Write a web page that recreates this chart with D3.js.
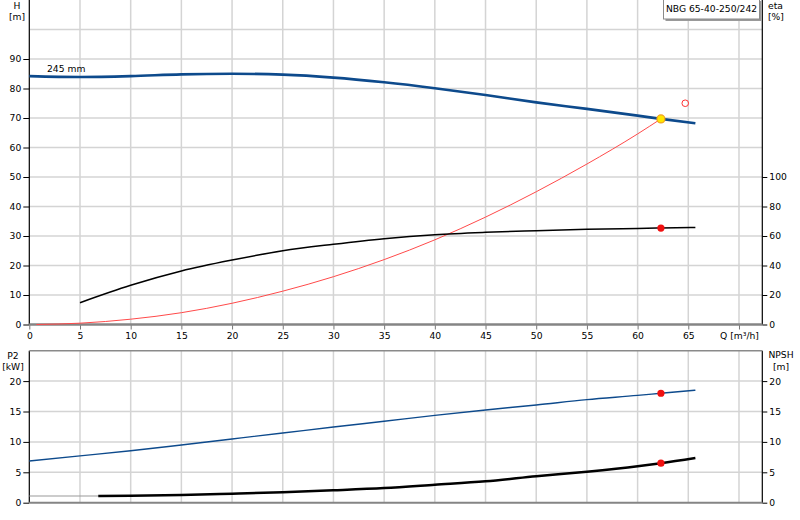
<!DOCTYPE html>
<html>
<head>
<meta charset="utf-8">
<script src="https://cdn.jsdelivr.net/npm/d3@7"></script>
<style>
  body { margin: 0; background: #fff; }
  svg { display: block; font-family: "DejaVu Sans", sans-serif; font-size: 9.2px; }
  .grid line { stroke: #d4d4d4; stroke-width: 1.5; }
  .axis text { fill: #000; font-size: 9.2px; font-family: "DejaVu Sans", sans-serif; }
</style>
</head>
<body>
<svg id="chart" width="800" height="520"></svg>
<script>
// flow ticks [m3/h]
const qTicks = [0, 5, 10, 15, 20, 25, 30, 35, 40, 45, 50, 55, 60, 65, 70];

// pump curve H [m]
const qHead = [0, 5, 10, 15, 20, 25, 30, 35, 40, 45, 50, 55, 60, 62.3, 65.7];
const head = [84.2, 83.9, 84.2, 84.8, 85.0, 84.7, 83.7, 82.1, 80.1, 77.8, 75.3, 73.1, 70.8, 69.7, 68.2];

// system curve H [m]
const qSys = [0.7, 5, 10, 15, 20, 25, 30, 35, 40, 45, 50, 55, 60, 62.3];
const headSys = [0, 0.45, 1.8, 4.0, 7.2, 11.3, 16.2, 22.0, 28.7, 36.4, 45.0, 54.4, 64.6, 69.7];

// efficiency eta [%]
const qEta = [5, 10, 15, 20, 25, 30, 35, 40, 45, 50, 55, 60, 62.3, 65.7];
const eta = [14.8, 26.6, 36.3, 43.7, 50.0, 54.4, 58.2, 60.9, 62.5, 63.6, 64.5, 65.1, 65.4, 65.8];

// power P2 [kW]
const qP2 = [0, 5, 10, 15, 20, 25, 30, 35, 40, 45, 50, 55, 60, 62.3, 65.7];
const p2 = [6.86, 7.7, 8.55, 9.5, 10.48, 11.46, 12.45, 13.4, 14.37, 15.25, 16.07, 16.95, 17.65, 18.0, 18.5];

// NPSH [m]
const qNpsh = [6.8, 10, 15, 20, 25, 30, 35, 40, 45, 50, 55, 60, 62.3, 65.7];
const npsh = [1.1, 1.15, 1.27, 1.48, 1.71, 2.04, 2.42, 2.96, 3.52, 4.34, 5.1, 6.0, 6.5, 7.35];
const qNpshExt = [0, 6.8];
const npshExt = [1.1, 1.1];

// duty point and requested point
const duty = { q: 62.3, h: 69.7, eta: 65.4, p2: 18.0, npsh: 6.5 };
const request = { q: 64.7, h: 75.0 };

const hTicks = [0, 10, 20, 30, 40, 50, 60, 70, 80, 90];
const hGrid = [10, 20, 30, 40, 50, 60, 70, 80, 90, 100];
const etaTicks = [0, 20, 40, 60, 80, 100];
const lowTicks = [0, 5, 10, 15, 20];
const lowGrid = [5, 10, 15, 20];

const svg = d3.select("#chart");
const left = 29.3, right = 762.3;

const x = d3.scaleLinear().domain([0, 72.3]).range([left, right]);
const yH = d3.scaleLinear().domain([0, 110]).range([324.5, 0]);
const yEta = d3.scaleLinear().domain([0, 220]).range([324.5, 0]);
const yLow = d3.scaleLinear().domain([0, 25]).range([502.7, 350.7]);

// grid - top
const gTop = svg.append("g").attr("class", "grid");
gTop.selectAll(".v").data(qTicks.slice(1)).join("line")
  .attr("x1", d => x(d)).attr("x2", d => x(d))
  .attr("y1", yH(110)).attr("y2", yH(0));
gTop.selectAll(".h").data(hGrid).join("line")
  .attr("x1", left).attr("x2", right)
  .attr("y1", d => yH(d)).attr("y2", d => yH(d));

// grid - bottom
const gLow = svg.append("g").attr("class", "grid");
gLow.selectAll(".v").data(qTicks.slice(1)).join("line")
  .attr("x1", d => x(d)).attr("x2", d => x(d))
  .attr("y1", yLow(25)).attr("y2", yLow(0));
gLow.selectAll(".h").data(lowGrid).join("line")
  .attr("x1", left).attr("x2", right)
  .attr("y1", d => yLow(d)).attr("y2", d => yLow(d));

// axes - top
const axH = svg.append("g").attr("class", "axis")
  .attr("transform", `translate(${left},0)`)
  .call(d3.axisLeft(yH).tickValues(hTicks).tickSize(6).tickPadding(2));
axH.select(".domain").remove();
svg.append("line").attr("x1", left).attr("x2", left).attr("y1", 0).attr("y2", yH(0))
  .attr("stroke", "#000").attr("stroke-width", 1.2);

const axEta = svg.append("g").attr("class", "axis")
  .attr("transform", `translate(${right},0)`)
  .call(d3.axisRight(yEta).tickValues(etaTicks).tickSize(5).tickPadding(2));
axEta.select(".domain").remove();
svg.append("line").attr("x1", right).attr("x2", right).attr("y1", 0).attr("y2", yH(0))
  .attr("stroke", "#000").attr("stroke-width", 1.2);

const axQ = svg.append("g").attr("class", "axis")
  .attr("transform", `translate(0,${yH(0)})`)
  .call(d3.axisBottom(x).tickValues(qTicks).tickSize(5).tickPadding(3)
    .tickFormat(d => d === 70 ? "Q [m\u00b3/h]" : d));
axQ.select(".domain").remove();
axQ.selectAll(".tick line").attr("stroke", "#777");
svg.append("line").attr("x1", left).attr("x2", right).attr("y1", yH(0)).attr("y2", yH(0))
  .attr("stroke", "#858585").attr("stroke-width", 2.5);

// axes - bottom
const axP = svg.append("g").attr("class", "axis")
  .attr("transform", `translate(${left},0)`)
  .call(d3.axisLeft(yLow).tickValues(lowTicks).tickSize(6).tickPadding(2));
axP.select(".domain").remove();
svg.append("line").attr("x1", left).attr("x2", left).attr("y1", yLow(25)).attr("y2", yLow(0))
  .attr("stroke", "#000").attr("stroke-width", 1.2);

const axN = svg.append("g").attr("class", "axis")
  .attr("transform", `translate(${right},0)`)
  .call(d3.axisRight(yLow).tickValues(lowTicks).tickSize(5).tickPadding(2));
axN.select(".domain").remove();
svg.append("line").attr("x1", right).attr("x2", right).attr("y1", yLow(25)).attr("y2", yLow(0))
  .attr("stroke", "#000").attr("stroke-width", 1.2);

svg.append("line").attr("x1", left).attr("x2", right).attr("y1", yLow(25)).attr("y2", yLow(25))
  .attr("stroke", "#8a8a8a").attr("stroke-width", 1.5);
svg.append("line").attr("x1", left).attr("x2", right).attr("y1", yLow(0)).attr("y2", yLow(0))
  .attr("stroke", "#858585").attr("stroke-width", 2);

// axis titles
function label(tx, ty, txt, anchor) {
  svg.append("text").attr("x", tx).attr("y", ty).attr("text-anchor", anchor || "middle")
    .attr("fill", "#000").text(txt);
}
label(17, 8.5, "H");
label(17, 19.5, "[m]");
label(768, 8.5, "eta", "start");
label(768, 19.5, "[%]", "start");
label(13, 359, "P2");
label(13, 369.5, "[kW]");
label(781, 358, "NPSH");
label(781, 369.5, "[m]");
label(47, 72, "245 mm", "start");

// curves
function draw(qs, vs, yScale, color, width) {
  const line = d3.line().x((d, i) => x(qs[i])).y(d => yScale(d)).curve(d3.curveMonotoneX);
  svg.append("path").datum(vs).attr("d", line)
    .attr("fill", "none").attr("stroke", color).attr("stroke-width", width)
    .attr("stroke-linejoin", "round");
}
draw(qSys, headSys, yH, "#ff4a4a", 1);
draw(qEta, eta, yEta, "#000", 1.5);
draw(qHead, head, yH, "#0d4a8c", 2.6);
draw(qP2, p2, yLow, "#0d4a8c", 1.4);
draw(qNpshExt, npshExt, yLow, "#9a9a9a", 1.2);
draw(qNpsh, npsh, yLow, "#000", 2.5);

// points
svg.append("circle").attr("cx", x(request.q)).attr("cy", yH(request.h)).attr("r", 3.3)
  .attr("fill", "none").attr("stroke", "#ff3030").attr("stroke-width", 1);
svg.append("circle").attr("cx", x(duty.q)).attr("cy", yH(duty.h)).attr("r", 4)
  .attr("fill", "#ffe600").attr("stroke", "#f0a020").attr("stroke-width", 1.2);
[[yEta, duty.eta], [yLow, duty.p2], [yLow, duty.npsh]].forEach(([s, v]) => {
  svg.append("circle").attr("cx", x(duty.q)).attr("cy", s(v)).attr("r", 3.6).attr("fill", "#f01010");
});

// product name box
const box = svg.append("g");
box.append("rect").attr("x", 665.5).attr("y", 1).attr("width", 96).attr("height", 20).attr("fill", "#9a9a9a");
box.append("rect").attr("x", 663.5).attr("y", -1).attr("width", 96).attr("height", 20)
  .attr("fill", "#fff").attr("stroke", "#8a8a8a").attr("stroke-width", 1);
box.append("text").attr("x", 711.5).attr("y", 12).attr("text-anchor", "middle")
  .attr("fill", "#000").text("NBG 65-40-250/242");
</script>
</body>
</html>
